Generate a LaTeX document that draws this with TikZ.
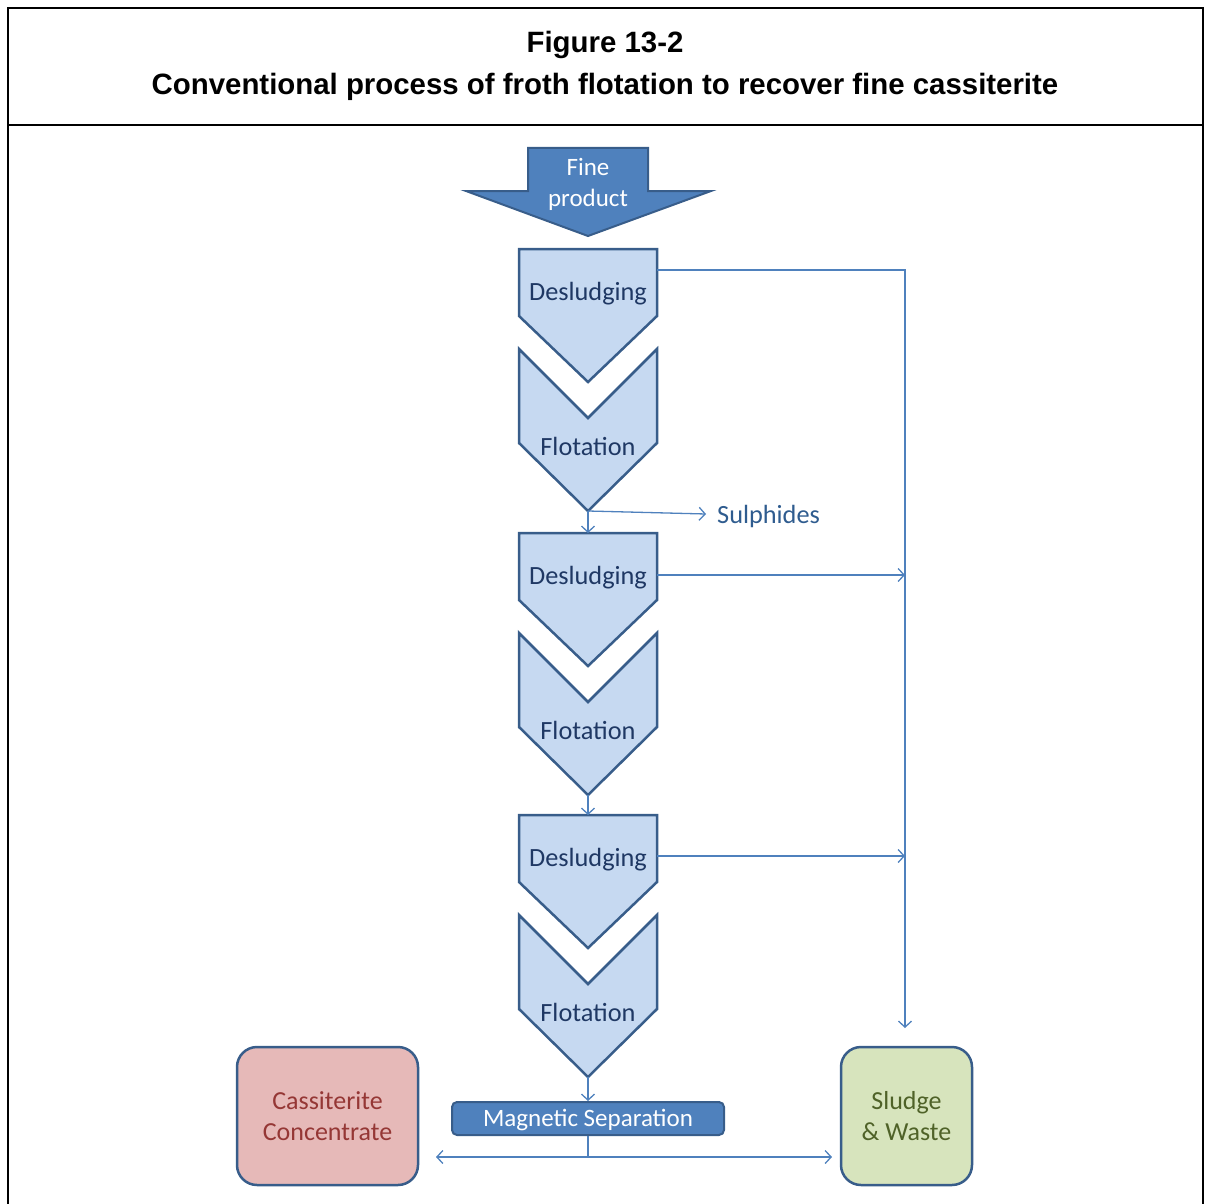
\documentclass[tikz,border=0pt]{standalone}
\usepackage{fontspec}
\setmainfont{Carlito}
\newfontfamily\titlefont{Liberation Sans}
\usetikzlibrary{arrows.meta}
\definecolor{chevfill}{HTML}{C6D9F1}
\definecolor{chevline}{HTML}{385D8A}
\definecolor{darkblue}{HTML}{4F81BD}
\definecolor{chevtext}{HTML}{1F3864}
\definecolor{sulph}{HTML}{2F5C8F}
\definecolor{cassfill}{HTML}{E6B9B8}
\definecolor{casstext}{HTML}{953735}
\definecolor{sludfill}{HTML}{D7E4BD}
\definecolor{sludtext}{HTML}{4F6228}
\tikzset{
  chevshape/.style={fill=chevfill,draw=chevline,line width=2.5pt,line join=miter},
  chevtxt/.style={text=chevtext,font=\fontsize{26.3}{31}\selectfont,inner sep=0pt},
  conn/.style={draw=darkblue,line width=1.3pt},
  arr/.style={conn,-{Straight Barb[length=6pt,width=13pt,line width=1.3pt]}},
  endbox/.style={rounded corners=20pt,line width=2.5pt,draw=chevline,align=center,
    font=\fontsize{26}{31}\selectfont,minimum height=138pt,inner sep=0pt},
  titletxt/.style={font=\titlefont\bfseries\fontsize{29.4}{35}\selectfont},
}
\newcommand\stagegroup[3]{%
  % #1 = top y, #2 = index, #3 = y of side exit line
  \path[chevshape] (519,#1) -- (657,#1) -- (657,#1+67) -- (588,#1+133) -- (519,#1+67) -- cycle;
  \path[chevshape] (519,#1+100) -- (588,#1+169) -- (657,#1+100) -- (657,#1+194) -- (588,#1+262) -- (519,#1+194) -- cycle;
  \node[chevtxt] (des#2) at (588,#1+45) {Desludging};
  \node[chevtxt] (flo#2) at (588,#1+197) {Flotation};
  \coordinate (des#2top) at (588,#1);
  \coordinate (des#2out) at (657,#3);
  \coordinate (flo#2tip) at (588,#1+262);
}
\begin{document}
\begin{tikzpicture}[x=1pt,y=-1pt]
\useasboundingbox (0,0) rectangle (1210,1204);
% frame
\draw[line width=2pt] (8,1204) -- (8,8) -- (1203,8) -- (1203,1204);
\draw[line width=2pt] (8,125) -- (1203,125);
\node[titletxt] (t1) at (605,45) {Figure 13-2};
\node[titletxt] (t2) at (605,87) {Conventional process of froth flotation to recover fine cassiterite};
% fine product arrow
\path[fill=darkblue,draw=chevline,line width=2pt,line join=miter]
  (528,148) -- (648,148) -- (648,191) -- (711,191) -- (588,236) -- (466,191) -- (528,191) -- cycle;
\node[text=white,align=center,font=\fontsize{25}{31}\selectfont,inner sep=0pt] (fine) at (588,184) {Fine\\product};
% stages
\stagegroup{249}{1}{270}
\stagegroup{533}{2}{575}
\stagegroup{815}{3}{856}
% magnetic separation
\node[fill=darkblue,draw=chevline,line width=2pt,rounded corners=5pt,minimum width=272pt,minimum height=33pt,
  text=white,font=\fontsize{25}{30}\selectfont,inner sep=0pt,text height=17pt,text depth=2pt] (mag) at (588,1118.5) {Magnetic Separation};
% end boxes
\node[endbox,fill=cassfill,text=casstext,minimum width=181pt] (cass) at (327.5,1116) {Cassiterite\\Concentrate};
\node[endbox,fill=sludfill,text=sludtext,minimum width=131pt] (slud) at (906.5,1116) {Sludge\\\&~Waste};
% connectors
\coordinate (j1) at (905,270);
\coordinate (j2) at (905,575);
\coordinate (j3) at (905,856);
\coordinate (sludin) at (905,1028);
\draw[arr] (des1out) -- (j1) -- (sludin);
\draw[arr] (des2out) -- (j2);
\draw[arr] (des3out) -- (j3);
\draw[arr] (flo1tip) -- (des2top);
\draw[arr] (flo2tip) -- (des3top);
\draw[arr] (flo3tip) -- (mag.north);
\coordinate (sulend) at (706,514);
\node[anchor=west,text=sulph,font=\fontsize{26.3}{31}\selectfont,inner sep=0pt] (sul) at (717,516) {Sulphides};
\draw[arr] (flo1tip) -- (sulend);
\coordinate (split) at (588,1157);
\coordinate (cassin) at (436,1157);
\coordinate (sludin2) at (832,1157);
\draw[conn] (mag.south) -- (split);
\draw[arr] (split) -- (cassin);
\draw[arr] (split) -- (sludin2);
\end{tikzpicture}
\end{document}
